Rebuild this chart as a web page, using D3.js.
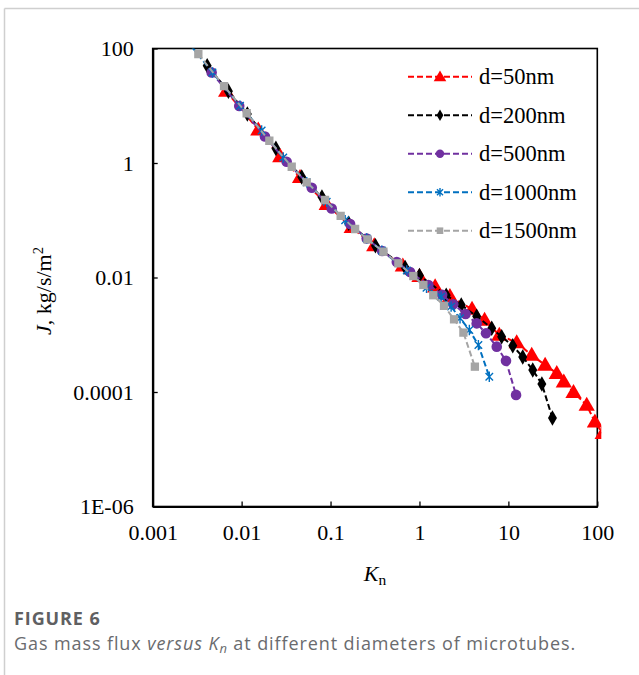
<!DOCTYPE html>
<html>
<head>
<meta charset="utf-8">
<script src="https://cdn.jsdelivr.net/npm/d3@7"></script>
<style>
  html, body { margin: 0; padding: 0; background: #fff; }
  svg { display: block; }
</style>
</head>
<body>
<svg id="chart" width="639" height="675"></svg>
<script>
// ---------------- data ----------------
const seriesNames = ["d=50nm", "d=200nm", "d=500nm", "d=1000nm", "d=1500nm"];

const kn50  = [0.0067, 0.0154, 0.0272, 0.0454, 0.0906, 0.173, 0.31, 0.65, 1.0, 1.5, 2.2, 3.9, 5.4, 7.9, 12.4, 18.3, 25.9, 35, 42, 54, 76, 94, 115];
const j50   = [18, 3.8, 1.3, 0.56, 0.19, 0.075, 0.036, 0.016, 0.0105, 0.0069, 0.0047, 0.0028, 0.0018, 0.00099, 0.00073, 0.00044, 0.000296, 0.000212, 0.000151, 0.000099, 0.000059, 0.00003, 0.000019];

const kn200 = [0.0041, 0.0071, 0.0116, 0.0243, 0.0474, 0.08, 0.16, 0.32, 0.69, 1.0, 2.0, 2.95, 4.4, 6.5, 8.4, 11.2, 14.5, 18.8, 23.8, 31.3];
const j200  = [50, 18, 7.2, 1.8, 0.57, 0.255, 0.089, 0.036, 0.015, 0.0108, 0.0049, 0.0033, 0.0021, 0.0013, 0.00092, 0.00064, 0.00041, 0.000242, 0.000138, 0.000035];

const kn500 = [0.0046, 0.0094, 0.0183, 0.0321, 0.0615, 0.103, 0.166, 0.255, 0.38, 0.556, 0.784, 1.26, 1.8, 2.4, 3.3, 4.4, 5.6, 7.4, 9.4, 12.2];
const j500  = [38, 9.9, 2.9, 1.05, 0.37, 0.16, 0.086, 0.048, 0.029, 0.0186, 0.0125, 0.0074, 0.005, 0.0034, 0.0023, 0.00158, 0.00106, 0.00062, 0.00035, 0.000089];

const kn1000 = [0.0024, 0.0047, 0.0096, 0.0168, 0.0294, 0.054, 0.0906, 0.146, 0.255, 0.377, 0.72, 1.2, 1.75, 2.27, 2.86, 3.64, 4.6, 6.1];
const j1000  = [140, 38, 10, 3.7, 1.25, 0.46, 0.21, 0.1, 0.048, 0.0295, 0.0133, 0.0066, 0.0046, 0.0031, 0.00194, 0.00121, 0.00066, 0.000185];

const kn1500 = [0.00326, 0.00634, 0.0114, 0.0205, 0.0366, 0.054, 0.0867, 0.13, 0.189, 0.26, 0.393, 0.579, 0.853, 1.107, 1.43, 1.89, 2.45, 3.12, 4.2];
const j1500  = [80, 22, 7.4, 2.45, 0.86, 0.46, 0.226, 0.119, 0.0703, 0.0465, 0.0282, 0.0177, 0.0106, 0.0074, 0.0049, 0.0032, 0.00186, 0.00109, 0.000277];

const xTickValues = [0.001, 0.01, 0.1, 1, 10, 100];
const xTickLabels = ["0.001", "0.01", "0.1", "1", "10", "100"];
const yTickValues = [1e-6, 1e-4, 1e-2, 1, 100];
const yTickLabels = ["1E-06", "0.0001", "0.01", "1", "100"];

// ---------------- styles ----------------
const colors  = ["#FF0000", "#000000", "#7030A0", "#0070C0", "#A5A5A5"];
const markers = ["triangle", "diamond", "circle", "star", "square"];

const allKn = [kn50, kn200, kn500, kn1000, kn1500];
const allJ  = [j50, j200, j500, j1000, j1500];
const series = seriesNames.map((name, i) => ({
  name, color: colors[i], marker: markers[i],
  points: allKn[i].map((k, j) => ({ kn: k, j: allJ[i][j] }))
}));

const svg = d3.select("#chart");
const pLeft = 152.7, pRight = 597.3, pTop = 48.5, pBottom = 506.5;
const serif = "'Liberation Serif', 'Times New Roman', serif";
const fs = 22;

// outer light frame
svg.append("line").attr("x1", 4.5).attr("x2", 639).attr("y1", 8.5).attr("y2", 8.5)
  .attr("stroke", "#cfcfcf").attr("stroke-width", 1.5);
svg.append("line").attr("x1", 4.5).attr("x2", 4.5).attr("y1", 8.5).attr("y2", 675)
  .attr("stroke", "#cfcfcf").attr("stroke-width", 1.5);

const x = d3.scaleLog().domain([0.001, 100]).range([pLeft, pRight]);
const y = d3.scaleLog().domain([1e-6, 100]).range([pBottom, pTop]);

// plot border
svg.append("rect").attr("x", pLeft).attr("y", pTop)
  .attr("width", pRight - pLeft).attr("height", pBottom - pTop)
  .attr("fill", "none").attr("stroke", "#000").attr("stroke-width", 1.6);

// axes
const xAxis = d3.axisBottom(x).tickValues(xTickValues)
  .tickFormat((d, i) => xTickLabels[i]).tickSizeInner(-5).tickSizeOuter(0).tickPadding(18);
const gx = svg.append("g").attr("transform", `translate(0,${pBottom})`).call(xAxis);
const yAxis = d3.axisLeft(y).tickValues(yTickValues)
  .tickFormat((d, i) => yTickLabels[i]).tickSizeInner(-5).tickSizeOuter(0).tickPadding(19);
const gy = svg.append("g").attr("transform", `translate(${pLeft},0)`).call(yAxis);

[gx, gy].forEach(g => {
  g.select(".domain").attr("stroke", "#000").attr("stroke-width", 2.2);
  g.selectAll(".tick line").attr("stroke", "#000").attr("stroke-width", 1.3);
  g.selectAll(".tick text").attr("font-family", serif).attr("font-size", fs).attr("fill", "#000");
});

// clip
svg.append("clipPath").attr("id", "plotclip").append("rect")
  .attr("x", pLeft - 10).attr("y", pTop).attr("width", pRight - pLeft + 14).attr("height", pBottom - pTop + 10);

function drawMarker(g, type, color, s) {
  if (type === "star") {
    const a = s * 0.72;
    g.append("path")
      .attr("d", `M0,${-s}L0,${s}M${-a},${-a}L${a},${a}M${-a},${a}L${a},${-a}`)
      .attr("stroke", color).attr("stroke-width", 1.4).attr("fill", "none");
  } else {
    const sym = { triangle: d3.symbolTriangle, diamond: d3.symbolDiamond, circle: d3.symbolCircle, square: d3.symbolSquare }[type];
    const area = { triangle: s * s * 2.2, diamond: s * s * 1.55, circle: s * s * 3.14, square: s * s * 3.0 }[type];
    const p = g.append("path").attr("d", d3.symbol().type(sym).size(area)()).attr("fill", color);
    if (type === "triangle") p.attr("transform", "translate(0,1)");
  }
}

const markerSize = { triangle: 7.2, diamond: 6.7, circle: 5.3, star: 5.2, square: 4.8 };
const legendMarkerSize = { triangle: 5.6, diamond: 5.0, circle: 4.2, star: 4.2, square: 3.8 };

const line = d3.line().x(d => x(d.kn)).y(d => y(d.j));
const plot = svg.append("g").attr("clip-path", "url(#plotclip)");

series.forEach(s => {
  const g = plot.append("g");
  g.append("path").datum(s.points).attr("d", line)
    .attr("fill", "none").attr("stroke", s.color).attr("stroke-width", 2)
    .attr("stroke-dasharray", "6,3");
  s.points.forEach(p => {
    const mg = g.append("g").attr("transform", `translate(${x(p.kn)},${y(p.j)})`);
    drawMarker(mg, s.marker, s.color, markerSize[s.marker]);
  });
});

// legend
const legY0 = 76.7, legDy = 38.5;
series.forEach((s, i) => {
  const ly = legY0 + i * legDy;
  const g = svg.append("g");
  g.append("line").attr("x1", 408).attr("x2", 472).attr("y1", ly).attr("y2", ly)
    .attr("stroke", s.color).attr("stroke-width", 2).attr("stroke-dasharray", "6,3");
  const mg = g.append("g").attr("transform", `translate(440,${ly})`);
  drawMarker(mg, s.marker, s.color, legendMarkerSize[s.marker]);
  g.append("text").attr("x", 479).attr("y", ly + 7.5)
    .attr("font-family", serif).attr("font-size", 22.5).attr("fill", "#000").text(s.name);
});

// axis titles
const xt = svg.append("text").attr("x", (pLeft + pRight) / 2).attr("y", 581)
  .attr("text-anchor", "middle").attr("font-family", serif).attr("font-size", fs);
xt.append("tspan").attr("font-style", "italic").text("K");
xt.append("tspan").attr("font-size", 15.5).attr("dy", 4).text("n");

const yt = svg.append("text").attr("transform", "translate(51,291) rotate(-90)")
  .attr("text-anchor", "middle").attr("font-family", serif).attr("font-size", fs);
yt.append("tspan").attr("font-style", "italic").text("J");
yt.append("tspan").text(", kg/s/m");
yt.append("tspan").attr("font-size", 14.5).attr("dy", -8).text("2");

// caption
const sans = "'Open Sans', 'Noto Sans', sans-serif";
svg.append("text").attr("x", 14).attr("y", 625).attr("font-family", sans)
  .attr("font-size", 18).attr("letter-spacing", 0.9).attr("font-weight", "bold").attr("fill", "#5f6062").text("FIGURE 6");
const cap = svg.append("text").attr("x", 14).attr("y", 650).attr("font-family", sans)
  .attr("font-size", 18).attr("letter-spacing", 0.9).attr("fill", "#6a6b6e");
cap.append("tspan").text("Gas mass flux ");
cap.append("tspan").attr("font-style", "italic").text("versus");
cap.append("tspan").text(" ");
cap.append("tspan").attr("font-style", "italic").text("K");
cap.append("tspan").attr("font-style", "italic").attr("font-size", 13).attr("dy", 3).text("n");
cap.append("tspan").attr("dy", -3).text(" at different diameters of microtubes.");
</script>
</body>
</html>
